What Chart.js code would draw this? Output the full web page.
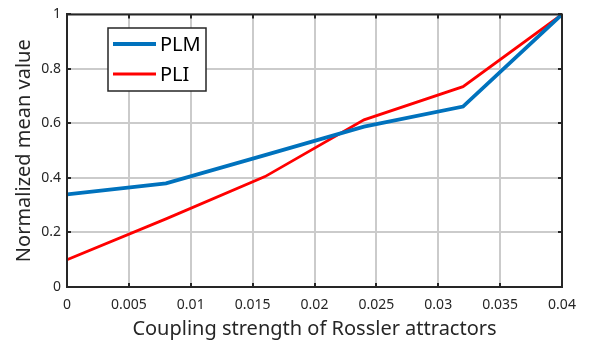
<!DOCTYPE html>
<html>
<head>
<meta charset="utf-8">
<script src="https://cdn.jsdelivr.net/npm/chart.js@4/dist/chart.umd.min.js"></script>
<style>
  html, body { margin: 0; padding: 0; background: #ffffff; }
  #wrap { width: 590px; height: 343px; }
</style>
</head>
<body>
<div id="wrap"><canvas id="chart" width="590" height="343"></canvas></div>
<script>
// Coupling strength of the Rossler attractors (x axis)
const couplingStrength = [0, 0.008, 0.016, 0.024, 0.032, 0.04];
// Normalized mean values for each coupling measure
const plmValues = [0.34, 0.38, 0.484, 0.588, 0.662, 1.0];
const pliValues = [0.10, 0.25, 0.405, 0.613, 0.735, 1.0];
const seriesNames = ['PLM', 'PLI'];

const xTitle = 'Coupling strength of Rossler attractors';
const yTitle = 'Normalized mean value';

const FONT = '"Noto Sans", "Open Sans", sans-serif';
const AXIS_COLOR = '#262626';
const GRID_COLOR = '#cbcbcb';

function toPoints(xs, ys) {
  return xs.map((x, i) => ({ x: x, y: ys[i] }));
}

// Closes the axes box and draws inward tick marks on all four sides
const boxPlugin = {
  id: 'boxTicks',
  afterDatasetsDraw(chart) {
    const { ctx, chartArea: a, scales } = chart;
    const len = 4;
    ctx.save();
    ctx.strokeStyle = AXIS_COLOR;
    ctx.lineWidth = 2;
    ctx.beginPath();
    scales.x.ticks.forEach(t => {
      const px = Math.round(scales.x.getPixelForValue(t.value));
      ctx.moveTo(px, a.bottom); ctx.lineTo(px, a.bottom - len);
      ctx.moveTo(px, a.top); ctx.lineTo(px, a.top + len);
    });
    scales.y.ticks.forEach(t => {
      const py = Math.round(scales.y.getPixelForValue(t.value));
      ctx.moveTo(a.left, py); ctx.lineTo(a.left + len, py);
      ctx.moveTo(a.right, py); ctx.lineTo(a.right - len, py);
    });
    ctx.stroke();
    ctx.beginPath();
    ctx.rect(a.left, a.top, a.right - a.left, a.bottom - a.top);
    ctx.stroke();
    ctx.restore();
  }
};

// Boxed legend placed inside the plot, upper left
const insetLegend = {
  id: 'insetLegend',
  afterDraw(chart) {
    const { ctx } = chart;
    const x0 = 108, y0 = 28, w = 98, h = 63;
    ctx.save();
    ctx.fillStyle = '#ffffff';
    ctx.fillRect(x0, y0, w, h);
    ctx.strokeStyle = AXIS_COLOR;
    ctx.lineWidth = 1.5;
    ctx.strokeRect(x0, y0, w, h);
    const rows = [44, 74];
    chart.data.datasets.forEach((ds, i) => {
      const y = rows[i];
      ctx.strokeStyle = ds.borderColor;
      ctx.lineWidth = ds.borderWidth;
      ctx.beginPath();
      ctx.moveTo(113, y);
      ctx.lineTo(156, y);
      ctx.stroke();
      ctx.fillStyle = '#000000';
      ctx.font = '20px ' + FONT;
      ctx.textBaseline = 'middle';
      ctx.textAlign = 'left';
      ctx.fillText(ds.label, 160, y + 1);
    });
    ctx.restore();
  }
};

new Chart(document.getElementById('chart'), {
  type: 'line',
  data: {
    datasets: [
      {
        label: seriesNames[0],
        data: toPoints(couplingStrength, plmValues),
        borderColor: '#0072BD',
        borderWidth: 3.8,
        pointRadius: 0,
        tension: 0,
        fill: false
      },
      {
        label: seriesNames[1],
        data: toPoints(couplingStrength, pliValues),
        borderColor: '#FF0000',
        borderWidth: 2.8,
        pointRadius: 0,
        tension: 0,
        fill: false
      }
    ]
  },
  options: {
    responsive: false,
    animation: false,
    layout: { padding: { top: 10, right: 28, left: 0, bottom: 0 } },
    plugins: {
      legend: { display: false },
      tooltip: { enabled: false }
    },
    scales: {
      x: {
        type: 'linear',
        min: 0,
        max: 0.04,
        afterFit(scale) { scale.height = 56; },
        ticks: {
          stepSize: 0.005,
          padding: 10,
          color: '#262626',
          font: { family: FONT, size: 14 },
          maxRotation: 0,
          callback: v => String(parseFloat(v.toFixed(3)))
        },
        grid: { color: GRID_COLOR, lineWidth: 2, drawTicks: false },
        border: { display: true, color: AXIS_COLOR, width: 2 },
        title: {
          display: true,
          text: xTitle,
          color: '#262626',
          font: { family: FONT, size: 20 },
          padding: { top: 0, bottom: 2 }
        }
      },
      y: {
        min: 0,
        max: 1,
        afterFit(scale) { scale.width = 67; },
        ticks: {
          stepSize: 0.2,
          padding: 6,
          color: '#262626',
          font: { family: FONT, size: 14 },
          callback: v => String(parseFloat(v.toFixed(2)))
        },
        grid: { color: GRID_COLOR, lineWidth: 2, drawTicks: false },
        border: { display: true, color: AXIS_COLOR, width: 2 },
        title: {
          display: true,
          text: yTitle,
          color: '#262626',
          font: { family: FONT, size: 20 },
          padding: { top: 12, bottom: 0 }
        }
      }
    }
  },
  plugins: [boxPlugin, insetLegend]
});
</script>
</body>
</html>
